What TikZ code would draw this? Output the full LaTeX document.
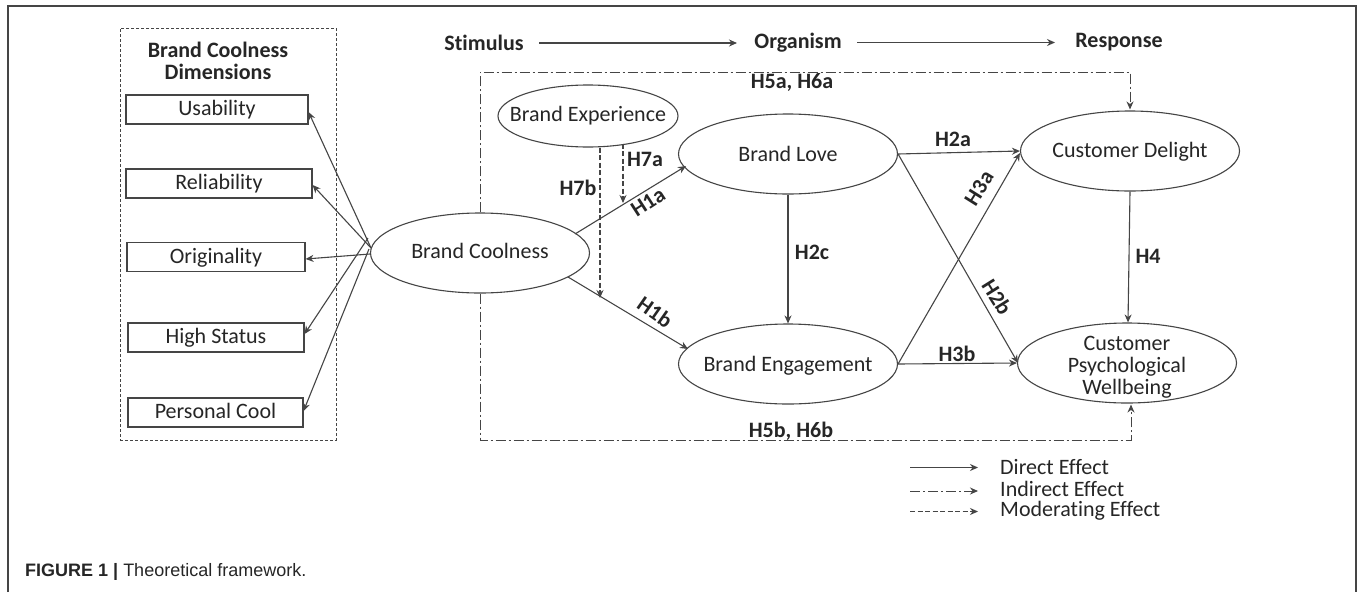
\documentclass[tikz,border=0pt]{standalone}
\usepackage{fontspec}
\setmainfont[Ligatures=NoCommon]{Carlito}
\newfontfamily\capfont{Liberation Sans}
\usetikzlibrary{arrows.meta,shapes.geometric}
\definecolor{ink}{HTML}{262626}
\definecolor{edge}{HTML}{454545}
\newcommand{\ctr}[2][-6pt]{\raisebox{#1}[0pt][0pt]{\makebox[0pt]{#2}}}
\tikzset{
  x=1pt,y=-1pt,
  txt/.style={font=\fontsize{22}{22}\selectfont,text=ink,align=center,inner sep=0pt},
  lab/.style={font=\fontsize{22}{22}\selectfont\bfseries,text=ink,align=center,inner sep=0pt},
  dim/.style={draw=edge,line width=1.1pt,fill=white,txt,minimum height=29pt},
  ell/.style={draw=edge,line width=1.1pt,fill=white,ellipse,txt,minimum width=219pt,minimum height=80pt},
  tip/.style={-{Stealth[length=8pt,width=7pt]}},
  direct/.style={draw=edge,line width=1.1pt,tip},
  indirect/.style={draw=edge,line width=1pt,dash pattern=on 10pt off 3pt on 2pt off 3pt},
  moder/.style={draw=edge,line width=1.1pt,dash pattern=on 5pt off 2.5pt},
}
\begin{document}
\begin{tikzpicture}
\useasboundingbox (0,0) rectangle (1357,592);
\fill[white] (0,0) rectangle (1357,592);
% outer frame (open at bottom)
\coordinate (fbl) at (8,592);
\coordinate (ftl) at (8,6);
\coordinate (ftr) at (1356,6);
\coordinate (fbr) at (1356,592);
\draw[edge,line width=1.4pt] (fbl) -- (ftl) -- (ftr) -- (fbr);
% dimensions box
\node[draw=edge,line width=1pt,dash pattern=on 3pt off 2pt,minimum width=216pt,minimum height=412pt,inner sep=0pt] (dimbox) at (228,234) {};
\node[lab] (dimtitle) at (218,60.5) {Brand Coolness\\Dimensions};
\node[dim,minimum width=182pt] (usab) at (217,109.5) {\ctr{Usability}};
\node[dim,minimum width=186pt] (reli) at (219,183.5) {\ctr{Reliability}};
\node[dim,minimum width=178pt] (orig) at (216,257) {\ctr{Originality}};
\node[dim,minimum width=176pt] (high) at (216,337.5) {\ctr{High Status}};
\node[dim,minimum width=175pt] (pers) at (215.5,412.5) {\ctr{Personal Cool}};
% constructs
\node[ell] (bc) at (480,253) {\ctr[-5.5pt]{Brand Coolness}};
\node[ell,minimum width=180pt,minimum height=62pt] (bx) at (588,116) {\ctr[-5pt]{Brand Experience}};
\node[ell] (bl) at (788,154) {\ctr[-7pt]{Brand Love}};
\node[ell] (be) at (788,364) {\ctr[-7pt]{Brand Engagement}};
\node[ell] (cd) at (1130,151) {\ctr[-6pt]{Customer Delight}};
\node[ell] (cp) at (1127,363) {\ctr[-10.5pt]{\begin{tabular}{@{}c@{}}Customer\\Psychological\\Wellbeing\end{tabular}}};
% S-O-R header
\node[lab] (stim) at (484,43) {Stimulus};
\node[lab] (orgn) at (798,43) {Organism};
\node[lab] (resp) at (1119,42.5) {Response};
\coordinate (s1) at (539,43);
\coordinate (s2) at (737,43);
\coordinate (s3) at (857,42.5);
\coordinate (s4) at (1055,42.5);
\draw[direct] (s1) -- (s2);
\draw[direct] (s3) -- (s4);
% indirect paths
\coordinate (toprail) at (1130,72);
\coordinate (botrail) at (1131,440);
\draw[indirect,tip,shorten >=1pt] (bc.north) |- (toprail) -- (cd.north);
\draw[indirect,tip,shorten >=1pt] (bc.south) |- (botrail) -- ([xshift=4pt]cp.south);
% dimension arrows
\coordinate (hub) at (371,248);
\coordinate (hubh) at (368,238);
\coordinate (hubp) at (369,249);
\draw[direct] (hub) -- ([yshift=-2.5pt]usab.east);
\draw[direct] (hub) -- ([yshift=-1.5pt]reli.east);
\draw[direct] ([yshift=-1pt]bc.west) -- ([yshift=-2pt]orig.east);
\draw[direct] (hubh) -- ([yshift=3.5pt]high.east);
\draw[direct] (hubp) -- ([yshift=1.5pt]pers.east);
% direct effects
\coordinate (h1as) at (575,234);
\coordinate (h1at) at (686,166);
\coordinate (h1bs) at (568,277);
\coordinate (h1bt) at (688,349);
\draw[direct] (h1as) -- (h1at);
\draw[direct] (h1bs) -- (h1bt);
\draw[direct] (bl.south) -- (be.north);
\draw[direct] (bl.east) -- (cd.west);
\draw[direct] (bl.east) -- ([xshift=1pt]cp.west);
\draw[direct] (be.east) -- ([yshift=-2pt]cd.west);
\draw[direct] (be.east) -- (cp.west);
\draw[direct] (cd.south) -- ([xshift=1pt]cp.north);
% moderators
\coordinate (h7at) at (623,203);
\coordinate (h7bt) at (600,298);
\draw[moder,tip] (h7at |- bx.south) ++(0,-4) -- (h7at);
\draw[moder,tip] (h7bt |- bx.south) -- (h7bt);
% hypothesis labels
\node[lab] (h5a) at (792,82) {H5a, H6a};
\node[lab] (h5b) at (791,431) {H5b, H6b};
\node[lab] (h7al) at (645,159) {H7a};
\node[lab] (h7bl) at (578,188) {H7b};
\node[lab,rotate=33] (h1al) at (648,202) {H1a};
\node[lab,rotate=-35] (h1bl) at (655,312) {H1b};
\node[lab] (h2cl) at (812,252) {H2c};
\node[lab] (h2al) at (953,139) {H2a};
\node[lab,rotate=58] (h3al) at (979,188) {H3a};
\node[lab,rotate=-58] (h2bl) at (997,297) {H2b};
\node[lab] (h3bl) at (957,354) {H3b};
\node[lab] (h4l) at (1148,256) {H4};
% legend
\node[txt,anchor=west] (l1) at (1000,467) {Direct Effect};
\node[txt,anchor=west] (l2) at (1000,489) {Indirect Effect};
\node[txt,anchor=west] (l3) at (1000,511) {Moderating Effect};
\coordinate (l1s) at (910,467.5);
\coordinate (l2s) at (910,491);
\coordinate (l3s) at (910,511.5);
\draw[direct] (l1s) -- ++(68,0);
\draw[indirect,tip] (l2s) -- ++(68,0);
\draw[moder,tip] (l3s) -- ++(68,0);
% caption
\node[anchor=west,inner sep=0pt,font=\capfont\fontsize{18}{20}\selectfont,text=ink] (cap) at (25,572) {\textbf{FIGURE 1 | }Theoretical framework.};
\end{tikzpicture}
\end{document}
